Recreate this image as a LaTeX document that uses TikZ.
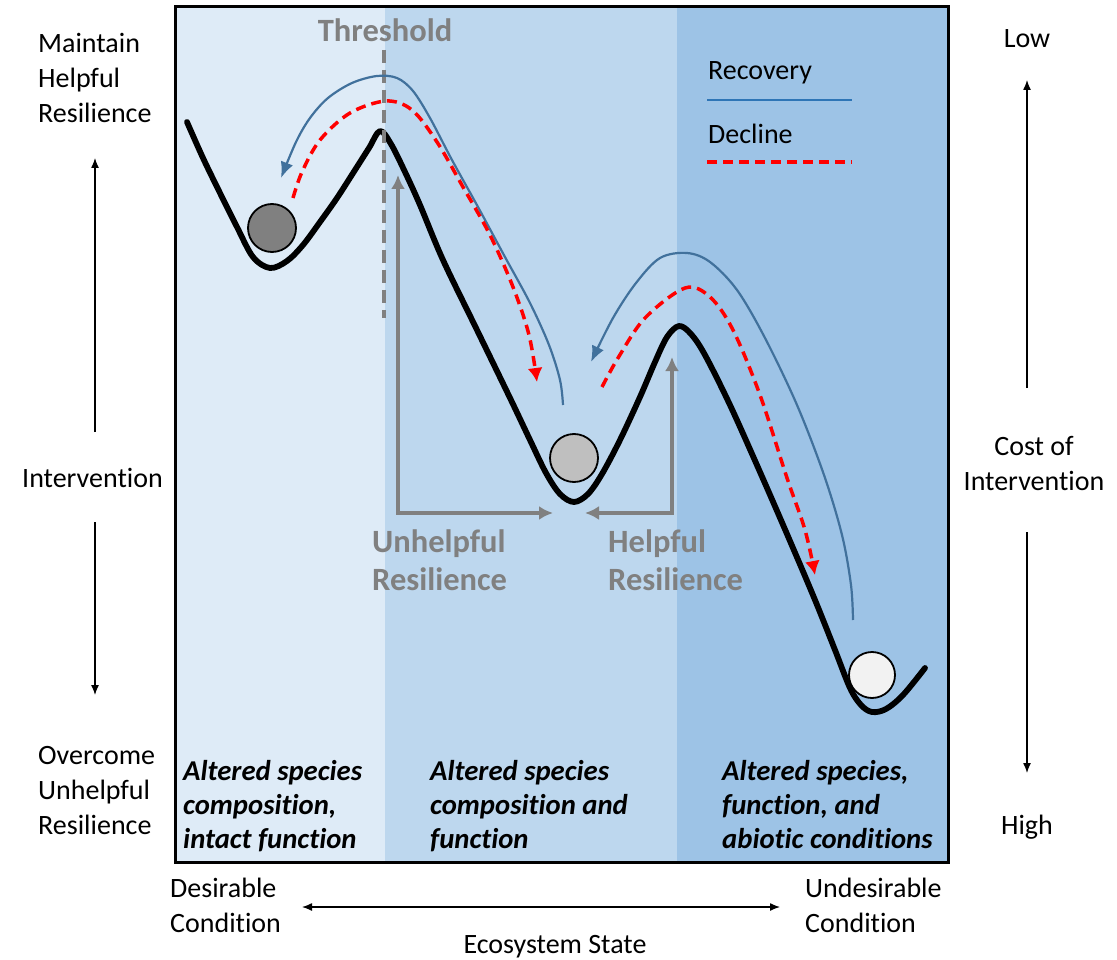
\documentclass[tikz,border=0pt]{standalone}
\usepackage{fontspec}
\setmainfont[Ligatures=NoCommon]{Carlito}
\usetikzlibrary{arrows.meta}
\definecolor{bgA}{RGB}{222,235,247}
\definecolor{bgB}{RGB}{189,215,238}
\definecolor{bgC}{RGB}{157,195,230}
\definecolor{recov}{RGB}{65,113,156}
\definecolor{legblue}{RGB}{46,117,182}
\definecolor{gr}{RGB}{128,128,128}
\definecolor{ballA}{RGB}{128,128,128}
\definecolor{ballB}{RGB}{191,191,191}
\definecolor{ballC}{RGB}{242,242,242}
\begin{document}
\begin{tikzpicture}[x=1pt,y=-1pt,
  lbl/.style={font=\fontsize{28}{35}\selectfont, inner sep=0pt, align=left},
  boxtxt/.style={font=\fontsize{28.7}{34}\selectfont\bfseries\itshape, inner sep=0pt, align=left},
  graytxt/.style={font=\fontsize{32.5}{38}\selectfont\bfseries, text=gr, inner sep=0pt, align=left},
  axisarrow/.style={-{Latex[length=10pt,width=8pt]}, line width=1.3pt},
  recovery/.style={draw=recov, line width=2.2pt, -{Latex[length=16pt,width=13pt]}},
  decline/.style={draw=red, line width=3.5pt, dash pattern=on 10pt off 6pt, -{Latex[length=14pt,width=15pt]}},
  grayarrow/.style={draw=gr, line width=3.5pt, line join=miter, {Latex[length=14pt,width=14pt]}-{Latex[length=14pt,width=14pt]}},
  landscape/.style={line width=5.8pt, line cap=round, line join=round},
  ball/.style={circle, draw, line width=1.8pt, minimum size=48pt, inner sep=0pt}
]
\useasboundingbox (0,0) rectangle (1117,960);
\fill[white] (0,0) rectangle (1117,960);
% backgrounds
\fill[bgA] (175,7) rectangle (385,862);
\fill[bgB] (385,7) rectangle (677,862);
\fill[bgC] (677,7) rectangle (948,862);

% gray resilience arrows
\coordinate (uTop) at (398,175);
\coordinate (uCorner) at (398,513);
\coordinate (uEnd) at (553,513);
\coordinate (hTop) at (672,357);
\coordinate (hCorner) at (672,513);
\coordinate (hEnd) at (585,513);
\draw[grayarrow] (uTop) -- (uCorner) -- (uEnd);
\draw[grayarrow] (hTop) -- (hCorner) -- (hEnd);

% landscape
\draw[landscape] plot[smooth, tension=0.55] coordinates {
 (187,122) (203,158) (220,193) (237,227) (253,257) (270,268) (287,261) (303,245)
 (320,222) (337,198) (355,170) (369,148) (380,131) (391,144) (405,172) (420,205)
 (443,260) (477,330) (511,400) (530,440) (546,473) (560,494) (574,502) (588,494)
 (602,474) (620,440) (640,397) (655,362) (667,337) (679,326) (691,334) (705,355)
 (730,405) (760,472) (790,541) (815,600) (835,650) (850,688) (861,705) (872,712)
 (886,709) (903,695) (925,668)};

% threshold
\coordinate (thTop) at (384,50);
\coordinate (thBot) at (384,318);
\draw[gr, line width=3.5pt, dash pattern=on 13pt off 7pt] (thTop) -- (thBot);
\node[graytxt, anchor=base] (thr) at (385,42) {Threshold};

% balls
\node[ball, fill=ballA] (b1) at (272,228) {};
\node[ball, fill=ballB] (b2) at (574,458) {};
\node[ball, fill=ballC, minimum size=46pt] (b3) at (872,675) {};

% recovery arrows
\draw[recovery] plot[smooth, tension=0.55] coordinates {
 (563,405) (560,380) (549,345) (530,303) (505,257) (478,207) (452,160) (430,118)
 (413,91) (397,78) (377,76) (352,83) (328,98) (310,118) (296,142) (281,178)};
\draw[recovery] plot[smooth, tension=0.55] coordinates {
 (853,620) (851,585) (842,535) (824,475) (797,405) (765,338) (737,290) (710,262)
 (687,253) (660,258) (636,283) (613,318) (591,362)};

% decline arrows
\draw[decline] plot[smooth, tension=0.55] coordinates {
 (293,198) (302,172) (320,140) (350,113) (386,101) (412,110) (437,142) (463,187)
 (490,235) (513,287) (529,335) (537,382)};
\draw[decline] plot[smooth, tension=0.55] coordinates {
 (602,387) (618,358) (645,318) (685,288) (710,297) (733,330) (760,395) (787,478)
 (805,530) (815,575)};

% legend
\node[lbl, anchor=base west] (recL) at (708,80) {Recovery};
\coordinate (rl1) at (707,100);
\coordinate (rl2) at (852,100);
\draw[legblue, line width=2.5pt] (rl1) -- (rl2);
\node[lbl, anchor=base west] (decL) at (708,144) {Decline};
\coordinate (dl1) at (707,162);
\coordinate (dl2) at (852,162);
\draw[red, line width=3.5pt, dash pattern=on 10pt off 6pt] (dl1) -- (dl2);

% gray labels (base anchor = last line)
\node[graytxt, anchor=base west] (unh) at (372,590) {Unhelpful\\Resilience};
\node[graytxt, anchor=base west] (hel) at (608,590) {Helpful\\Resilience};

% box texts
\node[boxtxt, anchor=base west] (t1) at (183,848) {Altered species\\composition,\\intact function};
\node[boxtxt, anchor=base west] (t2) at (430,848) {Altered species\\composition and\\function};
\node[boxtxt, anchor=base west] (t3) at (722,848) {Altered species,\\function, and\\abiotic conditions};

% frame
\draw[line width=3pt] (175,7) rectangle (948,862);

% left axis
\node[lbl, anchor=base west] (mhr) at (38,123) {Maintain\\Helpful\\Resilience};
\node[lbl, anchor=base west] (interv) at (22,487) {Intervention};
\node[lbl, anchor=base west] (our) at (38,834) {Overcome\\Unhelpful\\Resilience};
\coordinate (la1) at (95,432);
\coordinate (la2) at (95,158);
\coordinate (la3) at (95,522);
\coordinate (la4) at (95,695);
\draw[axisarrow] (la1) -- (la2);
\draw[axisarrow] (la3) -- (la4);

% right axis
\node[lbl, anchor=base] (low) at (1027,48) {Low};
\node[lbl, anchor=base, align=center] (cost) at (1034,490) {Cost of\\Intervention};
\node[lbl, anchor=base] (high) at (1027,834) {High};
\coordinate (ra1) at (1027,388);
\coordinate (ra2) at (1027,80);
\coordinate (ra3) at (1027,532);
\coordinate (ra4) at (1027,773);
\draw[axisarrow] (ra1) -- (ra2);
\draw[axisarrow] (ra3) -- (ra4);

% bottom axis
\node[lbl, anchor=base west] (des) at (170,932) {Desirable\\Condition};
\node[lbl, anchor=base west] (undes) at (805,932) {Undesirable\\Condition};
\node[lbl, anchor=base] (eco) at (555,953) {Ecosystem State};
\coordinate (ba1) at (302,907);
\coordinate (ba2) at (780,907);
\draw[axisarrow, {Latex[length=10pt,width=8pt]}-{Latex[length=10pt,width=8pt]}] (ba1) -- (ba2);
\end{tikzpicture}
\end{document}
